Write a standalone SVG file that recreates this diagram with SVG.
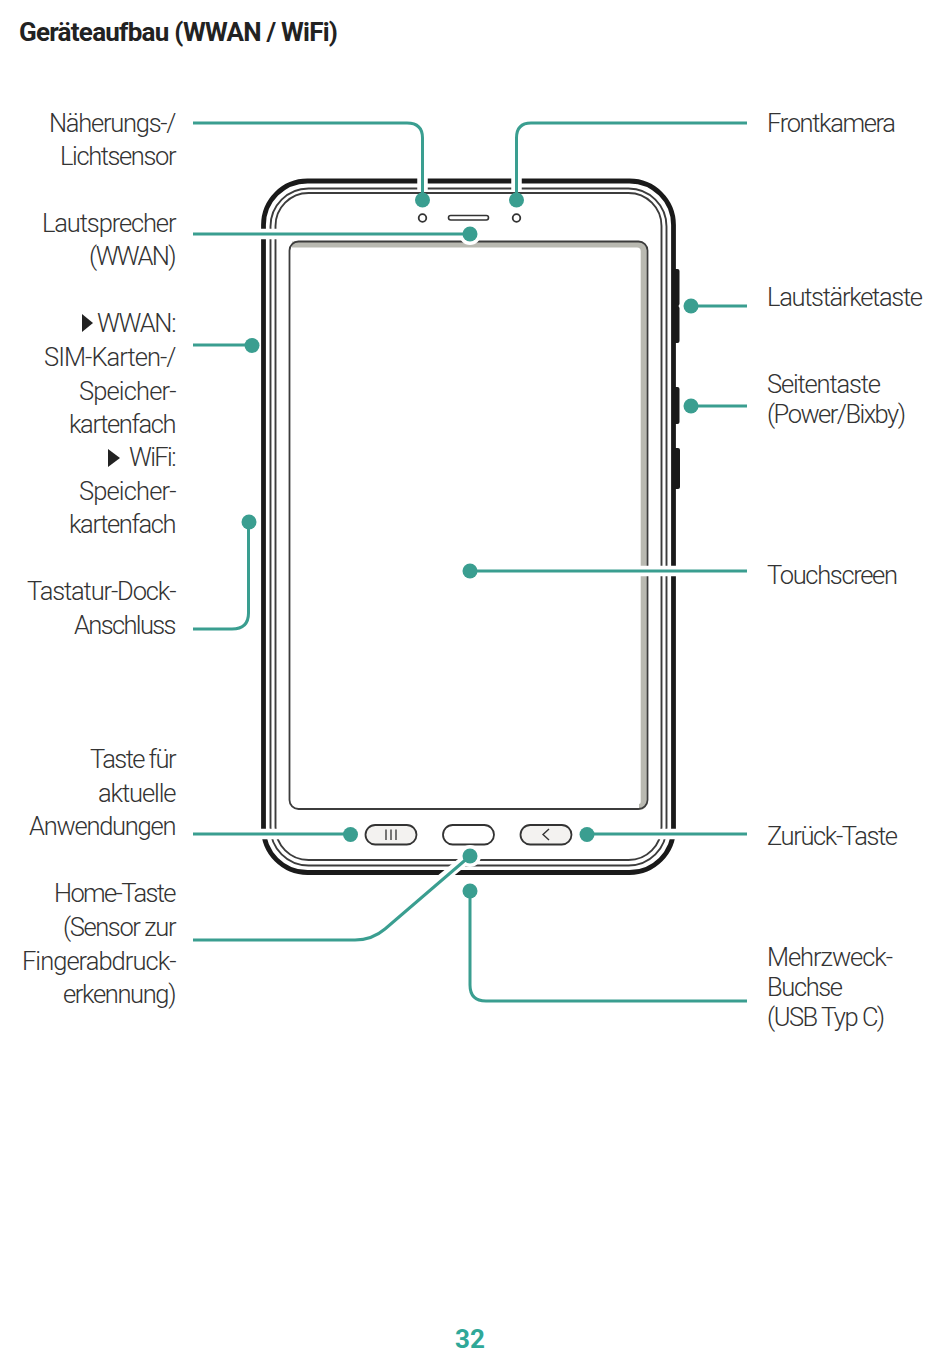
<svg xmlns="http://www.w3.org/2000/svg" width="950" height="1365" viewBox="0 0 950 1365">
<style>
.t{font-family:"Roboto","Liberation Sans",sans-serif;font-weight:300;font-size:25.5px;fill:#333}
.r{text-anchor:end}
.o{fill:none;stroke:#1a1a1a;stroke-width:4.8}
.l{fill:none;stroke:#3c3c3c;stroke-width:1.9}
.c{fill:none;stroke:#3a9e90;stroke-width:3}
.h{fill:none;stroke:#fff;stroke-width:10.5}
.d{fill:#3a9e90}
.k{fill:#f3f2f0;stroke:#333;stroke-width:1.8}
</style>
<rect width="950" height="1365" fill="#fff"/>
<text id="title" x="19" y="41" textLength="319" style="font-family:'Roboto','Liberation Sans',sans-serif;font-weight:700;font-size:26px;fill:#222">Geräteaufbau (WWAN / WiFi)</text>
<g id="device">
<rect x="263.500" y="181" width="410" height="691.500" rx="44" class="o"/>
<rect x="270.500" y="188.500" width="396" height="677" rx="38" class="l"/>
<rect x="275.500" y="193" width="386" height="667" rx="33" class="l"/>
<path d="M675 269h2.500q2 0 2 2v33l-1 2 1 2v33q0 2-2 2h-2.500zM675 387h2.500q2 0 2 2v33q0 2-2 2h-2.500zM675 448h3q2 0 2 2v37q0 2-2 2h-3z" fill="#1a1a1a"/>
</g>
<g id="screen">
<path d="M292 244.500H637Q643.700 244.500 643.700 251V802Q643.700 807 639 807" fill="none" stroke="#b9b9b1" stroke-width="6"/>
<rect x="289.500" y="241.500" width="358" height="567.500" rx="9" fill="none" stroke="#3c3c3c" stroke-width="1.800"/>
</g>
<g id="sensors">
<circle cx="422.500" cy="218" r="3.800" fill="#fff" stroke="#333" stroke-width="1.800"/>
<circle cx="516.500" cy="218" r="3.800" fill="#fff" stroke="#333" stroke-width="1.800"/>
<rect x="448.500" y="215.500" width="40" height="4.500" rx="2.200" fill="#fff" stroke="#333" stroke-width="1.600"/>
</g>
<g id="buttons">
<rect x="365.500" y="825" width="51" height="19.500" rx="9.700" class="k"/>
<path d="M386 829.500v10.500M391 829.500v10.500M396 829.500v10.500" stroke="#333" stroke-width="1.300" fill="none"/>
<rect x="443" y="825" width="51" height="19.500" rx="9.700" fill="#fff" stroke="#333" stroke-width="1.800"/>
<rect x="520.500" y="825" width="51" height="19.500" rx="9.700" class="k"/>
<path d="M549 829l-6 5.500 6 5.500" stroke="#333" stroke-width="1.400" fill="none"/>
</g>
<g id="connector-halos">
<path class="h" d="M422.500 175V190M516.500 175V190M255 234H465M636 571H690M255 834H345M592 834H685"/>
<path class="h" d="M385 925L470 856"/>
<circle cx="470" cy="234" r="11" fill="#fff"/>
<circle cx="470" cy="856" r="11" fill="#fff"/>
</g>
<g id="connectors">
<path class="c" d="M193 123H407Q422.500 123 422.500 138V200"/>
<path class="c" d="M747 123H531Q516.500 123 516.500 138V200"/>
<path class="c" d="M193 234H470"/>
<path class="c" d="M193 345H252"/>
<path class="c" d="M193 629H232Q248.500 629 248.500 613V522"/>
<path class="c" d="M193 834H350"/>
<path class="c" d="M193 940H355Q372 940 385 929L470 856"/>
<path class="c" d="M747 306H691"/>
<path class="c" d="M747 406H691"/>
<path class="c" d="M747 571H470"/>
<path class="c" d="M747 834H587"/>
<path class="c" d="M747 1001H486Q470 1001 470 985V891"/>
<circle class="d" cx="422.500" cy="200" r="7.500"/>
<circle class="d" cx="516.500" cy="200" r="7.500"/>
<circle class="d" cx="470" cy="234" r="7.500"/>
<circle class="d" cx="252" cy="345.500" r="7.500"/>
<circle class="d" cx="249" cy="522" r="7.500"/>
<circle class="d" cx="350.500" cy="834.500" r="7.500"/>
<circle class="d" cx="470" cy="856" r="7.500"/>
<circle class="d" cx="470" cy="891" r="7.500"/>
<circle class="d" cx="691" cy="306" r="7.500"/>
<circle class="d" cx="691" cy="406" r="7.500"/>
<circle class="d" cx="470" cy="571" r="7.500"/>
<circle class="d" cx="587" cy="834.500" r="7.500"/>
</g>
<g id="labels-left">
<text class="t r" x="176.500" y="132" textLength="127.500">Näherungs-/</text>
<text class="t r" x="176.500" y="165" textLength="116.500">Lichtsensor</text>
<text class="t r" x="176.500" y="232" textLength="134.500">Lautsprecher</text>
<text class="t r" x="176.500" y="265" textLength="87.500">(WWAN)</text>
<polygon points="82,314 93,323 82,332" fill="#222"/>
<text class="t r" x="176.500" y="332" textLength="79.500">WWAN:</text>
<text class="t r" x="176.500" y="366" textLength="132.500">SIM-Karten-/</text>
<text class="t r" x="176.500" y="400" textLength="97.500">Speicher-</text>
<text class="t r" x="176.500" y="433" textLength="107.500">kartenfach</text>
<polygon points="108,449 120,458 108,467" fill="#222"/>
<text class="t r" x="176.500" y="466" textLength="47.500">WiFi:</text>
<text class="t r" x="176.500" y="500" textLength="97.500">Speicher-</text>
<text class="t r" x="176.500" y="533" textLength="107.500">kartenfach</text>
<text class="t r" x="176.500" y="600" textLength="149.500">Tastatur-Dock-</text>
<text class="t r" x="176.500" y="634" textLength="102.500">Anschluss</text>
<text class="t r" x="176.500" y="768" textLength="86.500">Taste für</text>
<text class="t r" x="176.500" y="802" textLength="78.500">aktuelle</text>
<text class="t r" x="176.500" y="835" textLength="147.500">Anwendungen</text>
<text class="t r" x="176.500" y="902" textLength="122.500">Home-Taste</text>
<text class="t r" x="176.500" y="936" textLength="113.500">(Sensor zur</text>
<text class="t r" x="176.500" y="970" textLength="154.500">Fingerabdruck-</text>
<text class="t r" x="176.500" y="1003" textLength="113.500">erkennung)</text>
</g>
<g id="labels-right">
<text class="t" x="767" y="132" textLength="129">Frontkamera</text>
<text class="t" x="767" y="306" textLength="156">Lautstärketaste</text>
<text class="t" x="767" y="393" textLength="114">Seitentaste</text>
<text class="t" x="767" y="423" textLength="139">(Power/Bixby)</text>
<text class="t" x="767" y="584" textLength="131">Touchscreen</text>
<text class="t" x="767" y="845" textLength="131">Zurück-Taste</text>
<text class="t" x="767" y="966" textLength="126">Mehrzweck-</text>
<text class="t" x="767" y="996" textLength="76">Buchse</text>
<text class="t" x="767" y="1026" textLength="118">(USB Typ C)</text>
</g>
<text id="page" x="470" y="1348" text-anchor="middle" style="font-family:'Roboto','Liberation Sans',sans-serif;font-weight:700;font-size:26px;fill:#2fa898">32</text>
</svg>
